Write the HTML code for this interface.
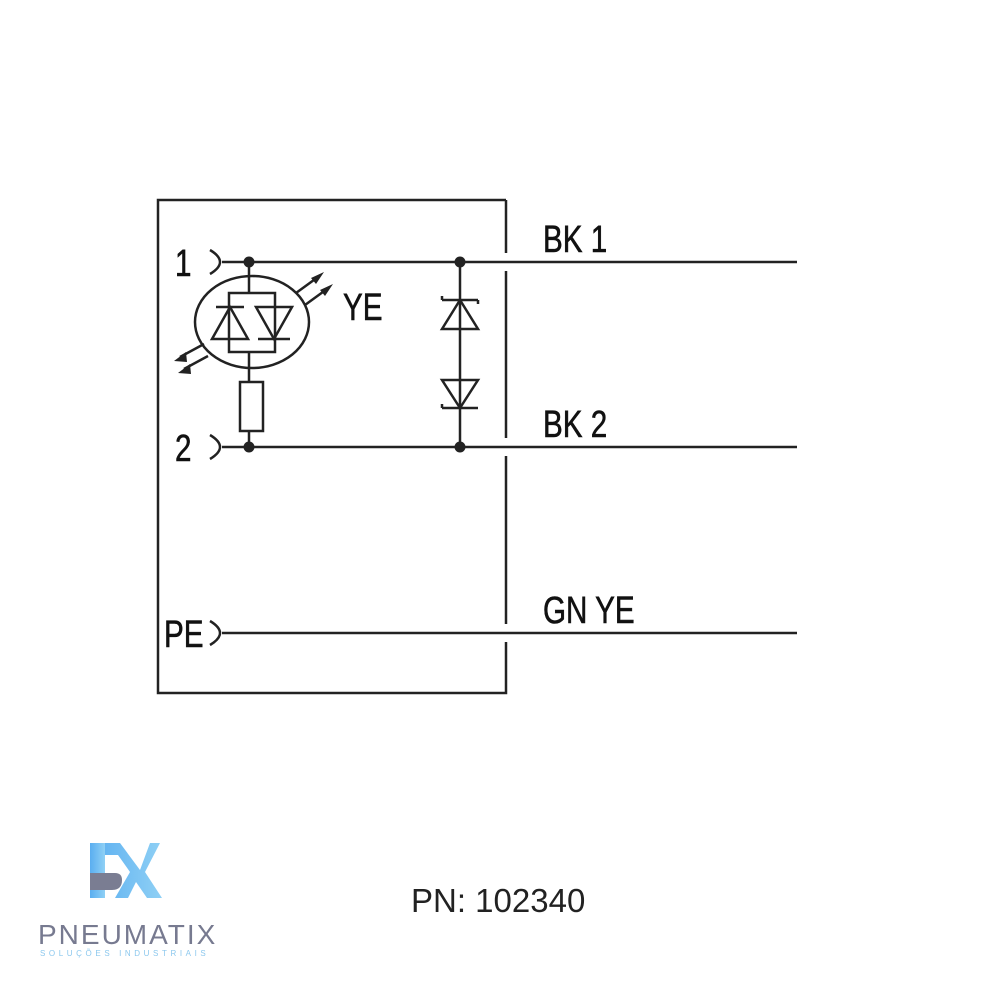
<!DOCTYPE html>
<html><head><style>body{margin:0;background:#fff}</style></head><body>
<svg width="1000" height="1000" viewBox="0 0 1000 1000" xmlns="http://www.w3.org/2000/svg">
<rect width="1000" height="1000" fill="#fff"/>
<g stroke="#222" stroke-width="2.5" fill="none">
<path d="M506 200 H158 V693 H506 V642 M506 624 V456 M506 438 V271 M506 253 V200"/>
<path d="M222 262 H797 M222 447 H797 M222 633 H797"/>
<path d="M210 250 Q230 262 210 274 M210 435 Q230 447 210 459 M210 621 Q230 633 210 645"/>
<ellipse cx="252" cy="322" rx="57" ry="46"/>
<path d="M249 262 V293 M229 293 H275 V352 H229 Z M249 352 V382 M249 431 V447"/>
<rect x="240" y="382" width="23" height="49"/>
<path d="M212 339 L230 307 L248 339 Z M216 307 H244"/>
<path d="M256 307 L274 339 L292 307 Z M258 339 H290"/>
<path d="M296 293 L318 277 M305 305 L327 289 M204 344 L180 357 M208 356 L184 369"/>
<path d="M460 262 V447"/>
<path d="M442 329 L460 300 L478 329 Z M442 300 H478 M442 300 V296 M478 300 V304"/>
<path d="M442 380 L460 408 L478 380 Z M442 408 H478 M442 408 V404"/>
</g>
<g fill="#222">
<circle cx="249" cy="262" r="5.5"/><circle cx="460" cy="262" r="5.5"/>
<circle cx="249" cy="447" r="5.5"/><circle cx="460" cy="447" r="5.5"/>
<path d="M324 272 L316 284 L311 278 Z M333 284 L325 296 L320 290 Z M174 361 L186 352 L187 362 Z M178 373 L190 364 L191 374 Z"/>
</g>
<g font-family="Liberation Sans, sans-serif" fill="#111" font-size="38" stroke="#111" stroke-width="0.6">
<text transform="translate(543,252) scale(0.78,1)">BK 1</text>
<text transform="translate(543,437) scale(0.78,1)">BK 2</text>
<text transform="translate(543,623) scale(0.78,1)">GN YE</text>
<text transform="translate(343,320) scale(0.78,1)">YE</text>
<text transform="translate(175,276) scale(0.78,1)">1</text>
<text transform="translate(175,461) scale(0.78,1)">2</text>
<text transform="translate(164,647) scale(0.78,1)">PE</text>
</g>
<text x="411" y="912" font-family="Liberation Sans, sans-serif" font-size="33" fill="#222">PN: 102340</text>
<defs><linearGradient id="g" x1="0" x2="1"><stop offset="0" stop-color="#5aaef0"/><stop offset="1" stop-color="#8fd0f5"/></linearGradient></defs>
<path d="M90 843 H120 L140 870 L150 843 H160 L145 872 L162 898 H147 L136 882 L128 898 H115 L130 872 L118 855 H90 Z" fill="url(#g)"/>
<path d="M90 843 H105 V898 H90 Z" fill="url(#g)"/>
<path d="M90 873 H115 Q122 873 122 880 V880 Q122 890 112 890 H90 Z" fill="#7a7d92"/>
<text x="38" y="944" font-family="Liberation Sans, sans-serif" font-size="28" fill="#777a90" letter-spacing="2">PNEUMATIX</text>
<text x="40" y="956" font-family="Liberation Sans, sans-serif" font-size="8" fill="#8cc8ee" letter-spacing="3.6">SOLUÇÕES INDUSTRIAIS</text>
</svg>
</body></html>
